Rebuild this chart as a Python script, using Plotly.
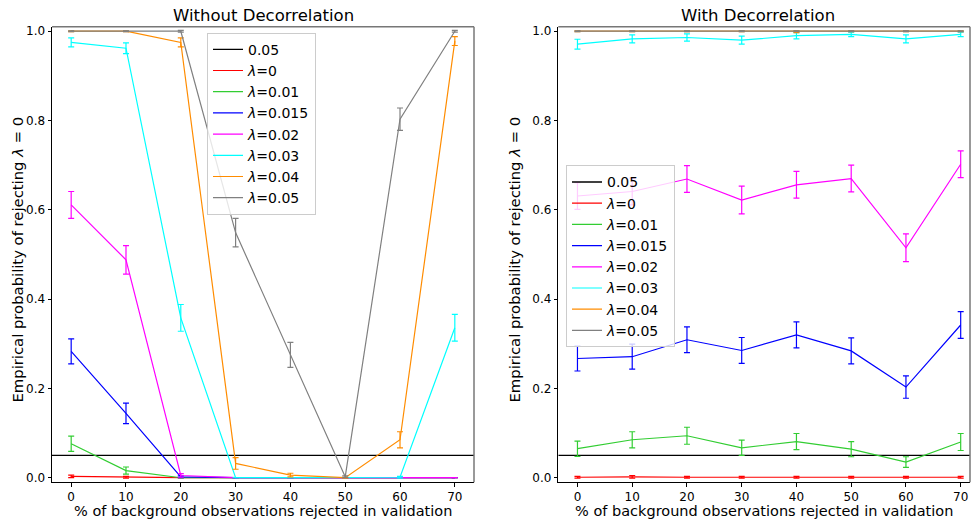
import plotly.graph_objects as go

# ---- data ----
x_rej = [0, 10, 20, 30, 40, 50, 60, 70]
lambda_labels = ["0", "0.01", "0.015", "0.02", "0.03", "0.04", "0.05"]
alpha_level = 0.05

# Without decorrelation
nd_vals = [
    [0.003, 0.001, 0.0, 0.0, 0.0, 0.0, 0.0, 0.0],
    [0.076, 0.016, 0.0, 0.0, 0.0, 0.0, 0.0, 0.0],
    [0.283, 0.144, 0.002, 0.0, 0.0, 0.0, 0.0, 0.0],
    [0.611, 0.488, 0.005, 0.0, 0.0, 0.0, 0.0, 0.0],
    [0.975, 0.962, 0.358, 0.0, 0.0, 0.0, 0.001, 0.336],
    [1.0, 1.0, 0.975, 0.032, 0.006, 0.0, 0.085, 0.978],
    [1.0, 1.0, 1.0, 0.549, 0.275, 0.002, 0.803, 1.0],
]
nd_errs = [
    [0.003, 0.002, 0.0, 0.0, 0.0, 0.0, 0.0, 0.0],
    [0.017, 0.008, 0.0, 0.0, 0.0, 0.0, 0.0, 0.0],
    [0.028, 0.023, 0.002, 0.0, 0.0, 0.0, 0.0, 0.0],
    [0.030, 0.032, 0.004, 0.0, 0.0, 0.0, 0.0, 0.0],
    [0.010, 0.012, 0.030, 0.0, 0.0, 0.0, 0.002, 0.030],
    [0.001, 0.001, 0.010, 0.013, 0.004, 0.001, 0.018, 0.010],
    [0.001, 0.001, 0.002, 0.032, 0.028, 0.002, 0.025, 0.002],
]

# With decorrelation
wd_vals = [
    [0.001, 0.002, 0.001, 0.001, 0.001, 0.001, 0.001, 0.001],
    [0.065, 0.085, 0.094, 0.067, 0.081, 0.064, 0.035, 0.080],
    [0.267, 0.271, 0.309, 0.285, 0.320, 0.284, 0.203, 0.342],
    [0.631, 0.641, 0.669, 0.622, 0.656, 0.670, 0.515, 0.702],
    [0.971, 0.983, 0.986, 0.980, 0.990, 0.993, 0.983, 0.993],
    [1.0, 1.0, 1.0, 1.0, 0.999, 1.0, 1.0, 1.0],
    [1.0, 1.0, 1.0, 1.0, 1.0, 1.0, 1.0, 1.0],
]
wd_errs = [
    [0.002, 0.003, 0.002, 0.002, 0.002, 0.002, 0.002, 0.002],
    [0.017, 0.018, 0.019, 0.017, 0.018, 0.017, 0.012, 0.019],
    [0.028, 0.028, 0.029, 0.029, 0.029, 0.029, 0.025, 0.030],
    [0.030, 0.030, 0.030, 0.031, 0.030, 0.030, 0.031, 0.030],
    [0.011, 0.009, 0.008, 0.009, 0.007, 0.005, 0.009, 0.005],
    [0.001, 0.001, 0.001, 0.001, 0.002, 0.001, 0.001, 0.001],
    [0.001, 0.001, 0.001, 0.001, 0.001, 0.001, 0.001, 0.001],
]

colors = ["#ff0000", "#32cd32", "#0000ff", "#ff00ff", "#00ffff", "#ff8c00", "#808080"]

W, H = 972, 523
FONT = "DejaVu Sans"
xr_left = [-3.5, 73.5]
xr_right = [-3.5, 71.7]
yr = [-0.0104, 1.01]

fig = go.Figure()

panels = [
    ("x", "y", "legend", xr_left, nd_vals, nd_errs),
    ("x2", "y2", "legend2", xr_right, wd_vals, wd_errs),
]
for xa, ya, lg, xr, vals, errs in panels:
    fig.add_trace(go.Scatter(
        x=xr, y=[alpha_level, alpha_level], mode="lines",
        line=dict(color="black", width=1.3), name="0.05",
        xaxis=xa, yaxis=ya, legend=lg, cliponaxis=False))
    for lab, v, e, c in zip(lambda_labels, vals, errs, colors):
        fig.add_trace(go.Scatter(
            x=x_rej, y=v, mode="lines",
            line=dict(color=c, width=1.2),
            error_y=dict(type="data", array=e, visible=True, color=c,
                         thickness=1.2, width=3),
            name="<i>λ</i>=" + lab,
            xaxis=xa, yaxis=ya, legend=lg))

y0 = (H - 485) / H
y1 = (H - 25) / H
axis_common = dict(
    showgrid=False, zeroline=False, showline=True, linecolor="black",
    linewidth=1, ticks="outside", ticklen=3.5, tickcolor="black",
    tickfont=dict(family=FONT, size=12, color="black"),
)
legend_common = dict(xanchor="left", yanchor="top",
                     bgcolor="rgba(255,255,255,0.8)", bordercolor="#cccccc",
                     borderwidth=1, font=dict(family=FONT, size=14, color="black"),
                     tracegroupgap=0)
fig.update_layout(
    width=W, height=H,
    margin=dict(l=0, r=0, t=0, b=0),
    paper_bgcolor="white", plot_bgcolor="white",
    font=dict(family=FONT, color="black"),
    xaxis=dict(domain=[52 / W, 474 / W], range=xr_left, tickvals=x_rej,
               anchor="y", **axis_common),
    yaxis=dict(domain=[y0, y1], range=yr, tickvals=[0, 0.2, 0.4, 0.6, 0.8, 1.0],
               tickformat=".1f", anchor="x", **axis_common),
    xaxis2=dict(domain=[558.3 / W, 970 / W], range=xr_right, tickvals=x_rej,
                anchor="y2", **axis_common),
    yaxis2=dict(domain=[y0, y1], range=yr, tickvals=[0, 0.2, 0.4, 0.6, 0.8, 1.0],
                tickformat=".1f", anchor="x2", **axis_common),
    legend=dict(x=207 / W, y=1 - 31 / H, **legend_common),
    legend2=dict(x=566 / W, y=1 - 165 / H, **legend_common),
    showlegend=True,
)

# gray top/right spines
for xd, yd in [("x domain", "y domain"), ("x2 domain", "y2 domain")]:
    fig.add_shape(type="line", xref=xd, yref=yd, x0=0, x1=1, y0=1, y1=1,
                  line=dict(color="#777777", width=1.5))
    fig.add_shape(type="line", xref=xd, yref=yd, x0=1, x1=1, y0=0, y1=1,
                  line=dict(color="#777777", width=1.5))

base = dict(xref="paper", yref="paper", showarrow=False,
            xanchor="center", yanchor="middle")
ann = []
ann.append(dict(text="Without Decorrelation", x=263 / W, y=1 - 14 / H,
                font=dict(family=FONT, size=16.5), **base))
ann.append(dict(text="With Decorrelation", x=758 / W, y=1 - 14 / H,
                font=dict(family=FONT, size=16.5), **base))
for cx in [263, 764]:
    ann.append(dict(text="% of background observations rejected in validation",
                    x=cx / W, y=1 - 513.5 / H,
                    font=dict(family=FONT, size=14.5), **base))
for cx in [18, 515]:
    ann.append(dict(text="Empirical probability of rejecting <i>λ</i> = 0",
                    x=cx / W, y=1 - 260 / H, textangle=-90,
                    font=dict(family=FONT, size=14.8), **base))
fig.update_layout(annotations=ann)

fig.write_html("out.html")
